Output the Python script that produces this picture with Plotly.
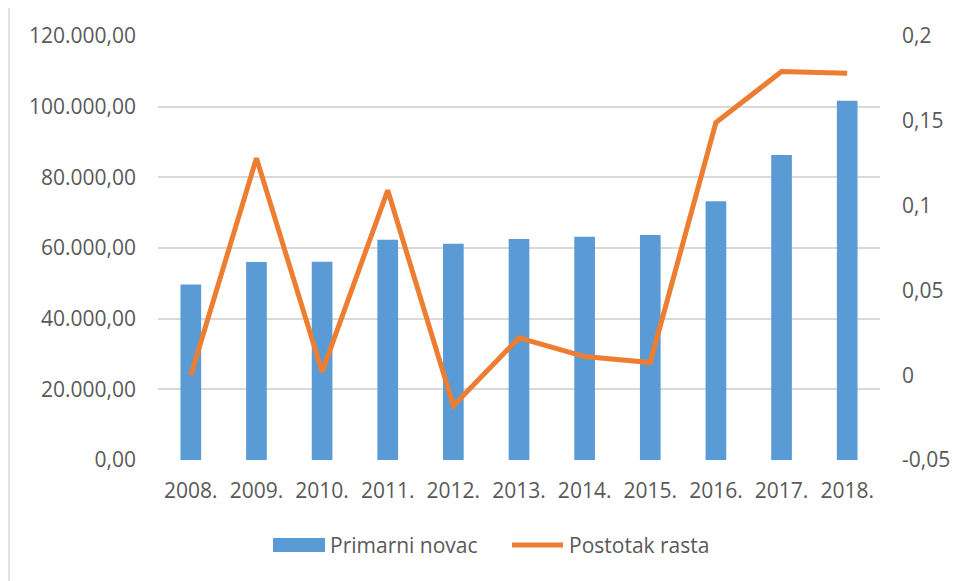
import plotly.graph_objects as go

years = ["2008.", "2009.", "2010.", "2011.", "2012.", "2013.", "2014.", "2015.", "2016.", "2017.", "2018."]
primarni_novac = [49700, 56050, 56100, 62350, 61220, 62540, 63200, 63680, 73200, 86300, 101700]
postotak_rasta = [0.0, 0.128, 0.002, 0.109, -0.018, 0.022, 0.011, 0.0075, 0.149, 0.179, 0.178]
right_tickvals = [-0.05, 0, 0.05, 0.1, 0.15, 0.2]
right_ticktext = ["-0,05", "0", "0,05", "0,1", "0,15", "0,2"]

OFF = 8  # page offset of the figure (body margin)
W, H = 961 - OFF, 581 - OFF
L, R, T, B = 158, 880, 36, 460  # plot area in page pixels

def px(x):
    return (x - L) / (R - L)

def py(y):
    return (B - y) / (B - T)

FONT = "Open Sans"
FS = 21
TXT = "#595959"
BLUE = "#5B9BD5"
ORANGE = "#ED7D31"

fig = go.Figure()
fig.add_trace(go.Bar(x=years, y=primarni_novac, name="Primarni novac",
                     marker=dict(color=BLUE, line=dict(width=0)), yaxis="y"))
fig.add_trace(go.Scatter(x=years, y=postotak_rasta, name="Postotak rasta", mode="lines",
                         line=dict(color=ORANGE, width=5), yaxis="y2"))

shapes = [
    dict(type="rect", xref="paper", yref="paper", x0=px(9), x1=px(990), y0=py(7), y1=py(600),
         line=dict(color="#D9D9D9", width=1.5), fillcolor="rgba(0,0,0,0)", layer="below"),
    dict(type="rect", xref="paper", yref="paper", x0=px(273), x1=px(325), y0=py(538), y1=py(552),
         line=dict(width=0), fillcolor=BLUE),
    dict(type="line", xref="paper", yref="paper", x0=px(512), x1=px(563), y0=py(545), y1=py(545),
         line=dict(color=ORANGE, width=5)),
]
annotations = [
    dict(xref="paper", yref="paper", x=px(328), y=py(545), text="Primarni novac", showarrow=False,
         xanchor="left", yanchor="middle", font=dict(family=FONT, size=FS, color=TXT)),
    dict(xref="paper", yref="paper", x=px(567), y=py(545), text="Postotak rasta", showarrow=False,
         xanchor="left", yanchor="middle", font=dict(family=FONT, size=FS, color=TXT)),
]

fig.update_layout(
    width=W, height=H,
    margin=dict(l=L - OFF, r=961 - R, t=T - OFF, b=581 - B),
    paper_bgcolor="white", plot_bgcolor="white",
    separators=",.",
    showlegend=False,
    bargap=0.685,
    font=dict(family=FONT, size=FS, color=TXT),
    xaxis=dict(showgrid=False, showline=False, zeroline=False, ticks="", ticklabelstandoff=16,
               tickfont=dict(family=FONT, size=FS, color=TXT)),
    yaxis=dict(range=[0, 120000], dtick=20000, tickformat=",.2f", showgrid=True,
               gridcolor="#D9D9D9", gridwidth=1.5, zeroline=False, showline=False,
               ticks="", ticklabelstandoff=21, tickfont=dict(family=FONT, size=FS, color=TXT)),
    yaxis2=dict(range=[-0.05, 0.2], overlaying="y", side="right", tickvals=right_tickvals,
                ticktext=right_ticktext, showgrid=False, zeroline=False, showline=False,
                ticks="", ticklabelstandoff=21, tickfont=dict(family=FONT, size=FS, color=TXT)),
    shapes=shapes,
    annotations=annotations,
)

fig.write_html("out.html")
